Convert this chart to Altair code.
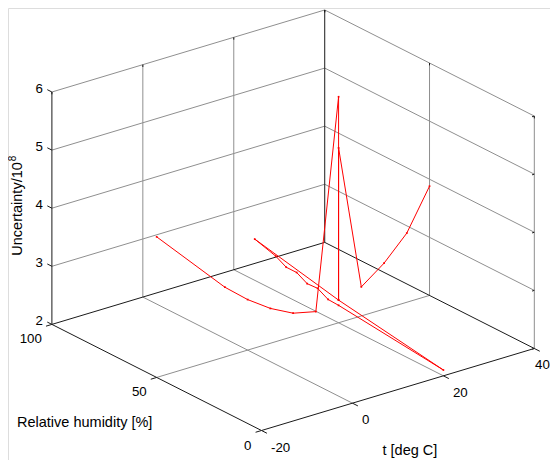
import altair as alt
import pandas as pd

# ---------------- data ----------------
t_ticks = [-20, 0, 20, 40]
rh_ticks = [0, 50, 100]
u_ticks = [2, 3, 4, 5, 6]

# measurement sequence (t [deg C], RH [%], uncertainty / 1e8)
t_vals = [-20, -5, 0, 5, 10, 15, 20, 20, 20, 20, 20, 20, 20, 20, 20, 20, 20, 20, 20, 25, 30, 35, 40]
rh_vals = [50, 50, 50, 50, 50, 50, 50, 50, 90, 80, 75, 70, 65, 60, 55, 50, 0, 50, 50, 50, 50, 50, 50]
u_vals = [4.42, 3.20, 2.87, 2.60, 2.40, 2.31, 5.89, 2.39, 2.71, 2.60, 2.50, 2.50, 2.40, 2.41,
          2.31, 2.30, 2.10, 2.39, 5.01, 2.50, 2.79, 3.19, 3.88]

# ---------------- 3-D view (orthographic projection) ----------------
ORIGIN = (261.5, 430.5)     # screen point of (t=-20, RH=0, U=2)
T_VEC = (4.547, -1.367)     # screen shift per deg C
RH_VEC = (-2.096, -1.061)   # screen shift per % RH
U_VEC = (0.0, -58.1)        # screen shift per unit of uncertainty
T0, RH0, U0 = -20, 0, 2
T1, RH1, U1 = 40, 100, 6


def proj(t, rh, u):
    x = ORIGIN[0] + (t - T0) * T_VEC[0] + (rh - RH0) * RH_VEC[0] + (u - U0) * U_VEC[0]
    y = ORIGIN[1] + (t - T0) * T_VEC[1] + (rh - RH0) * RH_VEC[1] + (u - U0) * U_VEC[1]
    return x, y


def seg_rows(segs):
    rows = []
    for a, b in segs:
        x, y = proj(*a)
        x2, y2 = proj(*b)
        rows.append({"x": x, "y": y, "x2": x2, "y2": y2})
    return pd.DataFrame(rows)


# grid (gray)
grid = []
for t in t_ticks[1:-1]:
    grid.append(((t, RH0, U0), (t, RH1, U0)))          # floor
    grid.append(((t, RH1, U0), (t, RH1, U1)))          # back-left wall
for rh in rh_ticks[1:-1]:
    grid.append(((T0, rh, U0), (T1, rh, U0)))          # floor
for rh in rh_ticks[:-1]:
    grid.append(((T1, rh, U0), (T1, rh, U1)))          # back-right wall
for u in u_ticks[1:]:
    grid.append(((T0, RH1, u), (T1, RH1, u)))          # back-left wall
    grid.append(((T1, RH0, u), (T1, RH1, u)))          # back-right wall

# axes / box edges (black)
axes = [
    ((T0, RH1, U0), (T0, RH1, U1)),
    ((T0, RH0, U0), (T0, RH1, U0)),
    ((T0, RH0, U0), (T1, RH0, U0)),
    ((T0, RH1, U0), (T1, RH1, U0)),
    ((T1, RH0, U0), (T1, RH1, U0)),
    ((T1, RH1, U0), (T1, RH1, U1)),
]
# tick marks
for u in u_ticks:
    axes.append(((T0, RH1, u), (T0, RH1 + 2.2, u)))
    axes.append(((T1, RH0, u), (T1 - 0.5, RH0, u)))
for rh in rh_ticks:
    axes.append(((T0, rh, U0), (T0 - 1.3, rh, U0)))
    axes.append(((T1, rh, U1), (T1, rh, U1 - 0.04)))
for t in t_ticks:
    axes.append(((t, RH0, U0), (t, RH0 - 2.6, U0)))
    axes.append(((t, RH1, U1), (t, RH1, U1 - 0.04)))

grid_df = seg_rows(grid)
axes_df = seg_rows(axes)

pts = []
for i, (t, rh, u) in enumerate(zip(t_vals, rh_vals, u_vals)):
    x, y = proj(t, rh, u)
    pts.append({"x": x, "y": y, "i": i, "t": t, "RH": rh, "U": u})
line_df = pd.DataFrame(pts)

# tick labels
lab_u = pd.DataFrame([dict(zip(["x", "y"], proj(T0, RH1, u)), text=str(u)) for u in u_ticks])
lab_rh = pd.DataFrame([dict(zip(["x", "y"], proj(T0, rh, U0)), text=str(rh)) for rh in rh_ticks])
lab_t = pd.DataFrame([dict(zip(["x", "y"], proj(t, RH0, U0)), text=str(t)) for t in t_ticks[:-1]])
lab_t_last = pd.DataFrame([dict(zip(["x", "y"], proj(t, RH0, U0)), text=str(t)) for t in t_ticks[-1:]])

# ---------------- chart ----------------
W, H = 542, 452
X = lambda f="x": alt.X(f"{f}:Q", scale=alt.Scale(domain=[8, 8 + W], nice=False, zero=False), axis=None)
Y = lambda f="y": alt.Y(f"{f}:Q", scale=alt.Scale(domain=[8, 8 + H], nice=False, zero=False, reverse=True), axis=None)
FONT = "Liberation Sans"
TICK_FS = 13.3
LAB_FS = 14.5

grid_layer = alt.Chart(grid_df).mark_rule(color="#8f8f8f", strokeWidth=1).encode(
    x=X(), y=Y(), x2="x2:Q", y2="y2:Q")
axes_layer = alt.Chart(axes_df).mark_rule(color="#1a1a1a", strokeWidth=1).encode(
    x=X(), y=Y(), x2="x2:Q", y2="y2:Q")
red = alt.Chart(line_df).mark_line(color="#ff0000", strokeWidth=1, strokeJoin="miter").encode(
    x=X(), y=Y(), order="i:Q")
red_pts = alt.Chart(line_df).mark_square(color="#ff0000", size=3, opacity=1).encode(x=X(), y=Y())

tick_u = alt.Chart(lab_u).mark_text(font=FONT, fontSize=TICK_FS, align="right", baseline="middle",
                                    dx=-9, dy=-3, color="black").encode(x=X(), y=Y(), text="text:N")
tick_rh = alt.Chart(lab_rh).mark_text(font=FONT, fontSize=TICK_FS, align="right", baseline="middle",
                                      dx=-10, dy=15, color="black").encode(x=X(), y=Y(), text="text:N")
tick_t = alt.Chart(lab_t).mark_text(font=FONT, fontSize=TICK_FS, align="left", baseline="middle",
                                    dx=9.5, dy=17, color="black").encode(x=X(), y=Y(), text="text:N")
# last t label kept inside the canvas edge
tick_t_last = alt.Chart(lab_t_last).mark_text(font=FONT, fontSize=TICK_FS, align="right", baseline="middle",
                                              dx=15.5, dy=17, color="black").encode(x=X(), y=Y(), text="text:N")

ztx, zty = proj(T0, RH1, (U0 + U1) / 2)
rhx, rhy = proj(T0, (RH0 + RH1) / 2, U0)
ttx, tty = proj((T0 + T1) / 2, RH0, U0)
zt_df = pd.DataFrame([{"x": ztx, "y": zty, "main": "Uncertainty/10", "sup": "8"}])
z_title = alt.Chart(zt_df).mark_text(
    font=FONT, fontSize=LAB_FS, angle=270, align="right", baseline="middle", dx=46, dy=-34,
    color="black").encode(x=X(), y=Y(), text="main:N")
z_sup = alt.Chart(zt_df).mark_text(
    font=FONT, fontSize=10, angle=270, align="left", baseline="middle", dx=47, dy=-38.5,
    color="black").encode(x=X(), y=Y(), text="sup:N")
rh_title = alt.Chart(pd.DataFrame([{"x": rhx, "y": rhy, "text": "Relative humidity [%]"}])).mark_text(
    font=FONT, fontSize=LAB_FS, align="center", baseline="middle", dx=-72, dy=46,
    color="black").encode(x=X(), y=Y(), text="text:N")
t_title = alt.Chart(pd.DataFrame([{"x": ttx, "y": tty, "text": "t [deg C]"}])).mark_text(
    font=FONT, fontSize=LAB_FS, align="center", baseline="middle", dx=12, dy=62,
    color="black").encode(x=X(), y=Y(), text="text:N")

chart = alt.layer(
    grid_layer, axes_layer, red, red_pts, tick_u, tick_rh, tick_t, tick_t_last,
    z_title, z_sup, rh_title, t_title
).properties(width=W, height=H, padding=0, autosize=alt.AutoSizeParams(type="none")
).configure_view(stroke=None).configure(background="white")

chart.save("out.html", embed_options={"renderer": "svg", "actions": False})
